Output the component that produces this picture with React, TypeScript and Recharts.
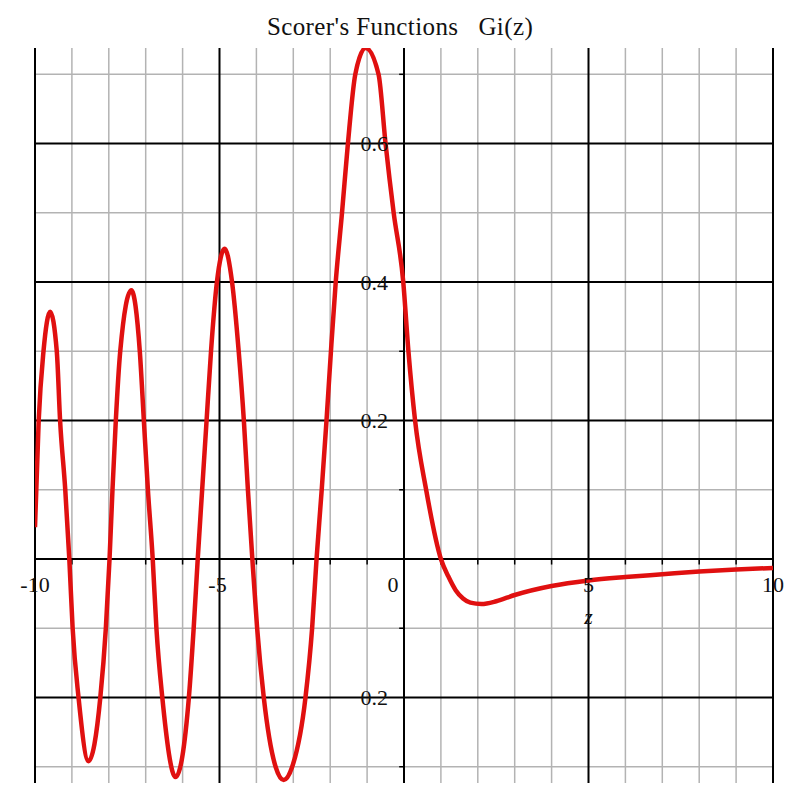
import React from 'react';
import { LineChart, Line, XAxis, YAxis, ReferenceLine, ReferenceDot } from 'recharts';

// Gi(z) curve
const zValues = [
  -10, -9.9, -9.77, -9.59, -9.41, -9.32, -9.18, -9.07, -8.98, -8.82, -8.55,
  -8.23, -8.08, -7.98, -7.9, -7.81, -7.69, -7.39, -7.16, -7.05, -6.94, -6.81,
  -6.71, -6.55, -6.19, -5.83, -5.7, -5.59, -5.47, -5.35, -5.23, -5.07, -4.86,
  -4.66, -4.48, -4.34, -4.23, -4.11, -3.98, -3.8, -3.48, -3.26, -3.03, -2.67,
  -2.49, -2.37, -2.23, -2.1, -1.98, -1.85, -1.68, -1.52, -1.32, -1.04, -0.69,
  -0.5, -0.28, -0.02, 0.12, 0.3, 0.6, 1.0, 1.2, 1.4, 1.6, 1.8, 2.1, 2.5, 3, 4, 5,
  6, 7, 8, 9, 10,
];
const giValues = [
  0.046, 0.2, 0.3, 0.357, 0.3, 0.2, 0.1, 0, -0.1, -0.2, -0.292,
  -0.2, -0.1, 0, 0.1, 0.2, 0.3, 0.388, 0.3, 0.2, 0.1, 0,
  -0.1, -0.2, -0.315, -0.2, -0.1, 0, 0.1, 0.2, 0.3, 0.4, 0.448,
  0.4, 0.3, 0.2, 0.1, 0, -0.1, -0.2, -0.3, -0.319, -0.3, -0.2,
  -0.1, 0, 0.1, 0.2, 0.3, 0.4, 0.5, 0.6, 0.7, 0.738, 0.7,
  0.6, 0.5, 0.4, 0.3, 0.2, 0.1, 0, -0.025, -0.045, -0.057, -0.063, -0.065, -0.061, -0.052, -0.039, -0.031,
  -0.026, -0.022, -0.018, -0.015, -0.013,
];

const minorX = [-9, -8, -7, -6, -4, -3, -2, -1, 1, 2, 3, 4, 6, 7, 8, 9];
const majorX = [-10, -5, 0, 5, 10];
const minorY = [0.7, 0.5, 0.3, 0.1, -0.1, -0.3];
const majorY = [0.6, 0.4, 0.2, 0, -0.2];
const xTickValues = [-10, -5, 0, 5, 10];
const xTickLabels = ['-10', '-5', '0', '5', '10'];
const yTickValues = [0.6, 0.4, 0.2, -0.2];
const yTickLabels = ['0.6', '0.4', '0.2', '0.2'];
const unitTicks = [-9, -8, -7, -6, -4, -3, -2, -1, 1, 2, 3, 4, 6, 7, 8, 9];

const data = zValues.map((z, i) => ({ z, gi: giValues[i] }));

const FONT = '"Liberation Serif", "DejaVu Serif", serif';

export default function App() {
  return (
    <div style={{ position: 'absolute', left: 0, top: 0, width: 800, height: 800, background: '#fff' }}>
      <div
        style={{
          position: 'absolute', top: 14, left: 0, width: 800, textAlign: 'center',
          fontFamily: FONT, fontSize: 25, lineHeight: '26px', letterSpacing: 0.4,
          color: '#111', whiteSpace: 'pre',
        }}
      >
        {"Scorer's Functions   Gi(z)"}
      </div>
      <LineChart width={800} height={800} data={data} margin={{ top: 48, right: 27, bottom: 17, left: 35 }}>
        <XAxis dataKey="z" type="number" domain={[-10, 10]} hide allowDataOverflow />
        <YAxis type="number" domain={[-0.3235, 0.738]} hide allowDataOverflow />

        {/* light grid */}
        {minorX.map((x) => (
          <ReferenceLine key={`mx${x}`} x={x} stroke="#b3b3b3" strokeWidth={1.5} />
        ))}
        {minorY.map((y) => (
          <ReferenceLine key={`my${y}`} y={y} stroke="#b3b3b3" strokeWidth={1.5} />
        ))}

        {/* heavy grid + axes */}
        {majorX.map((x) => (
          <ReferenceLine key={`Mx${x}`} x={x} stroke="#000" strokeWidth={2} />
        ))}
        {majorY.map((y) => (
          <ReferenceLine key={`My${y}`} y={y} stroke="#000" strokeWidth={2} />
        ))}

        {/* small tick marks */}
        {minorY.map((y) => (
          <ReferenceLine key={`ty${y}`} segment={[{ x: -0.13, y }, { x: 0, y }]} stroke="#000" strokeWidth={1.5} />
        ))}
        {unitTicks.map((x) => (
          <ReferenceLine key={`tx${x}`} segment={[{ x, y: 0 }, { x, y: -0.008 }]} stroke="#000" strokeWidth={1.5} />
        ))}

        {xTickValues.map((x, i) => (
          <ReferenceDot
            key={`lx${x}`}
            x={x}
            y={0}
            r={1}
            fill="none"
            stroke="none"
            label={{
              value: xTickLabels[i],
              position: 'bottom',
              offset: 16,
              fontSize: 22,
              fontFamily: FONT,
              fill: '#111',
              dx: x === 0 ? -11 : x === -5 ? -2 : 0,
            }}
          />
        ))}
        {yTickValues.map((y, i) => (
          <ReferenceDot
            key={`ly${y}`}
            x={0}
            y={y}
            r={1}
            fill="none"
            stroke="none"
            label={{
              value: yTickLabels[i],
              position: 'left',
              offset: 15,
              fontSize: 22,
              fontFamily: FONT,
              fill: '#111',
            }}
          />
        ))}
        <ReferenceDot
          x={5}
          y={0}
          r={1}
          fill="none"
          stroke="none"
          label={{ value: 'z', position: 'bottom', offset: 48, fontSize: 22, fontFamily: FONT, fontStyle: 'italic', fill: '#111' }}
        />

        <Line
          type="monotone"
          dataKey="gi"
          stroke="#e01010"
          strokeWidth={4.5}
          dot={false}
          isAnimationActive={false}
        />
      </LineChart>
    </div>
  );
}
